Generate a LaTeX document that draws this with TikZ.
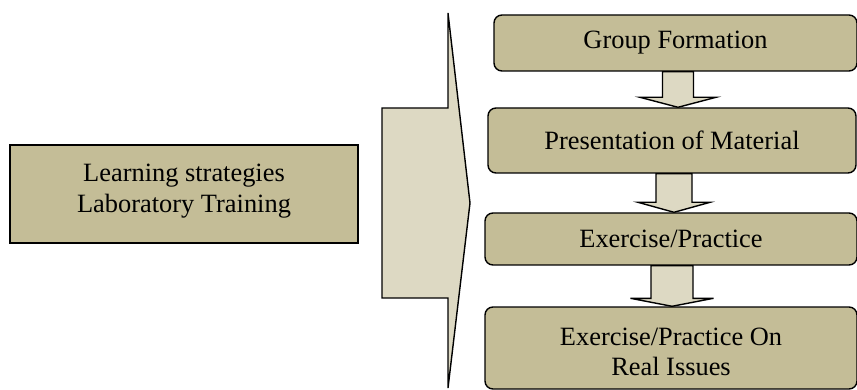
\documentclass[tikz,border=0pt]{standalone}
\usepackage{fontspec}
\setmainfont{Liberation Serif}
\usetikzlibrary{calc}
\pgfdeclarelayer{background}
\pgfsetlayers{background,main}
\definecolor{boxtan}{RGB}{196,189,151}
\definecolor{arrowtan}{RGB}{221,217,195}
\tikzset{
  boxfont/.style={font=\fontsize{26.4}{30.5}\selectfont, align=center},
  stepbox/.style={draw=black, line width=1.4pt, fill=boxtan, rounded corners=8pt,
    inner sep=0pt},
  sourcebox/.style={draw=black, line width=1.3pt, fill=boxtan, inner sep=0pt},
  blockarrow/.style={draw=black, line width=1.4pt, fill=arrowtan, line join=miter},
}
\newcommand\flowarrow[6]{%
  \draw[blockarrow] let \p1=([xshift=#3pt]#1.south), \p2=(#2.north) in
    (\x1-#4pt,\y1) -- (\x1-#4pt,\y2+#6pt) -- (\x1-#5pt,\y2+#6pt) -- (\x1,\y2)
    -- (\x1+#5pt,\y2+#6pt) -- (\x1+#4pt,\y2+#6pt) -- (\x1+#4pt,\y1) -- cycle;}
\begin{document}
\begin{tikzpicture}[x=1pt,y=-1pt]
\useasboundingbox (0,0) rectangle (857,390);
% big arrow
\draw[blockarrow] (382,108) -- (448,108) -- (448,13) -- (470,203) -- (448,388)
  -- (448,298) -- (382,298) -- cycle;
\node[sourcebox, minimum width=348pt, minimum height=98pt,
  label={[boxfont, yshift=3pt]center:Learning strategies\\Laboratory Training}] (src) at (184,194) {};
% step boxes
\node[stepbox, boxfont, minimum width=363pt, minimum height=56pt] (g) at (675.5,43) {Group Formation};
\node[stepbox, boxfont, minimum width=368pt, minimum height=65pt] (p) at (672,140.5) {Presentation of Material};
\node[stepbox, boxfont, minimum width=372pt, minimum height=52pt] (e) at (671,239) {Exercise/Practice};
\node[stepbox, minimum width=372pt, minimum height=82pt,
  label={[boxfont, yshift=-4pt]center:Exercise/Practice On\\Real Issues}] (r) at (671,348) {};
% arrows behind the boxes
\begin{pgfonlayer}{background}
\flowarrow{g}{p}{2.5}{15.5}{38}{10}
\flowarrow{p}{e}{2}{18}{36}{10}
\flowarrow{e}{r}{1}{21}{41.5}{8}
\end{pgfonlayer}
\end{tikzpicture}
\end{document}
